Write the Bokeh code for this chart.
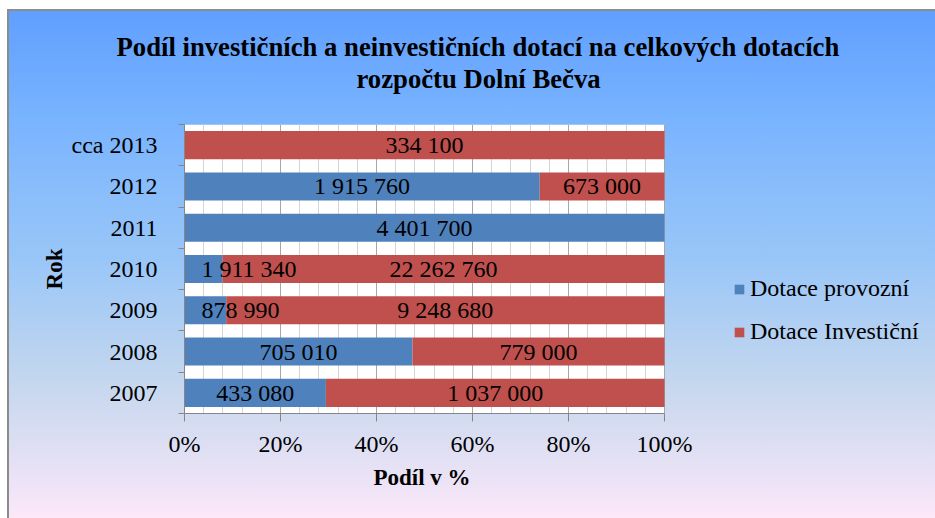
from bokeh.plotting import figure
from bokeh.models import (ColumnDataSource, Range1d, FixedTicker, PrintfTickFormatter, Title,
                          Legend, BoxAnnotation)
from bokeh.core.properties import value
from bokeh.embed import file_html
from bokeh.resources import INLINE

# ---- data ----
years = ["2007", "2008", "2009", "2010", "2011", "2012", "cca 2013"]
provozni = [433080, 705010, 878990, 1911340, 4401700, 1915760, 0]
investicni = [1037000, 779000, 9248680, 22262760, 0, 673000, 334100]
series_names = ["Dotace provozní", "Dotace Investiční"]
x_ticks = [0, 20, 40, 60, 80, 100]
x_minor_step = 4
title_lines = ["Podíl investičních a neinvestičních dotací na celkových dotacích",
               "rozpočtu Dolní Bečva"]
x_title = "Podíl v %"
y_title = "Rok"

BLUE = "#4F81BD"
RED = "#C0504D"
AXIS = "#868686"
FONT = "Liberation Serif"

totals = [a + b for a, b in zip(provozni, investicni)]
p_prov = [100.0 * a / t for a, t in zip(provozni, totals)]
p_inv = [100.0 * b / t for b, t in zip(investicni, totals)]
ypos = [i + 0.5 for i in range(len(years))]

W, H = 935, 518
LEFT = 184
PLOT_W = 480                      # pixel width of the 0-100 % plot area
x_end = 100.0 * (W - LEFT) / PLOT_W   # frame extends right to hold the legend

p = figure(width=W, height=H, x_range=Range1d(0, x_end), y_range=Range1d(0, len(years)),
           output_backend="svg", toolbar_location=None,
           min_border_left=LEFT, min_border_right=0, min_border_top=124, min_border_bottom=105,
           background_fill_color=None, border_fill_color=None, outline_line_color=None)

p.styles = {
    "background": ("linear-gradient(#ffffff,#ffffff) 0 0 / 100% 9px no-repeat, "
                   "linear-gradient(#ffffff,#ffffff) 0 0 / 7px 100% no-repeat, "
                   "linear-gradient(#8c8c8c,#8c8c8c) 7px 9px / 100% 2px no-repeat, "
                   "linear-gradient(#8c8c8c,#8c8c8c) 7px 9px / 2px 100% no-repeat, "
                   "linear-gradient(to bottom, #5d9dff 0%, #78b3ff 22%, #99c6f8 50%, "
                   "#c5d7ee 74%, #ece3f6 93%, #fce8f8 100%)")
}

# white plot area (0-100 %)
p.add_layout(BoxAnnotation(left=x_ticks[0], right=x_ticks[-1], fill_color="white",
                           fill_alpha=1, line_color=None, level="image"))

src = ColumnDataSource(dict(y=ypos, prov=p_prov, inv=p_inv))
rs = p.hbar_stack(["prov", "inv"], y="y", height=0.68, color=[BLUE, RED],
                  line_color=None, source=src)

# data labels
cx, cy, ct = [], [], []
lx, ly, lt = [], [], []
for i in range(len(years)):
    start = 0.0
    for val, pct in [(provozni[i], p_prov[i]), (investicni[i], p_inv[i])]:
        if val > 0:
            txt = f"{val:,}".replace(",", " ")
            c = start + pct / 2
            w = (sum(ch.isdigit() for ch in txt) * 0.5 + txt.count(" ") * 0.25) * 24
            if c / 100 * PLOT_W - w / 2 < 16:
                lx.append(0); ly.append(ypos[i]); lt.append(txt)
            else:
                cx.append(c); cy.append(ypos[i]); ct.append(txt)
        start += pct

p.text(x=cx, y=cy, text=ct, text_font=value(FONT), text_font_size="24px",
       text_align="center", text_baseline="middle", text_color="black")
p.text(x=lx, y=ly, text=lt, text_font=value(FONT), text_font_size="24px",
       text_align="left", text_baseline="middle", text_color="black", x_offset=17)

# titles
spacer = Title(text=" ", text_font_size="20px", standoff=7)
t2 = Title(text=title_lines[1], align="left", offset=172, text_font=FONT,
           text_font_size="26.7px", text_font_style="bold", text_color="black", standoff=0)
t1 = Title(text=title_lines[0], align="left", offset=-68, text_font=FONT,
           text_font_size="26.7px", text_font_style="bold", text_color="black", standoff=0)
p.add_layout(spacer, "above")
p.add_layout(t2, "above")
p.add_layout(t1, "above")

# x axis
xa = p.xaxis[0]
xa.bounds = (x_ticks[0], x_ticks[-1])
xa.ticker = FixedTicker(ticks=x_ticks, minor_ticks=list(range(x_ticks[0], x_ticks[-1] + 1, x_minor_step)))
xa.formatter = PrintfTickFormatter(format="%d%%")
xa.axis_line_color = AXIS
xa.major_tick_line_color = AXIS
xa.major_tick_out = 8
xa.major_tick_in = 0
xa.minor_tick_line_color = None
xa.major_label_text_font = FONT
xa.major_label_text_font_size = "24px"
xa.major_label_text_color = "black"
xa.major_label_standoff = 9

# x-axis title, centred under the 0-100 % plot area
xt = Title(text=x_title, align="left", offset=189, text_font=FONT,
           text_font_size="23px", text_font_style="bold", text_color="black",
           vertical_align="top", standoff=10)
p.add_layout(xt, "below")

# y axis
ya = p.yaxis[0]
ya.ticker = FixedTicker(ticks=ypos, minor_ticks=list(range(len(years) + 1)))
ya.major_label_overrides = {y: name for y, name in zip(ypos, years)}
ya.axis_line_color = AXIS
ya.major_tick_line_color = None
ya.major_tick_out = 0
ya.major_tick_in = 0
ya.minor_tick_line_color = AXIS
ya.minor_tick_out = 6
ya.minor_tick_in = 0
ya.major_label_text_font = FONT
ya.major_label_text_font_size = "24px"
ya.major_label_text_color = "black"
ya.major_label_standoff = 21
ya.axis_label = y_title
ya.axis_label_text_font = FONT
ya.axis_label_text_font_size = "23px"
ya.axis_label_text_font_style = "bold"
ya.axis_label_text_color = "black"
ya.axis_label_standoff = 2

# grid
p.xgrid.grid_line_color = "#a6a6a6"
p.xgrid.minor_grid_line_color = "#d4d4d4"
p.ygrid.visible = False

# legend
legend = Legend(items=[(series_names[0], [rs[0]]), (series_names[1], [rs[1]])],
                location=(549, 68), label_text_font=FONT, label_text_font_size="24px",
                label_text_color="black", glyph_width=12, glyph_height=12,
                label_standoff=5, spacing=16, padding=0, margin=0,
                background_fill_alpha=0, border_line_color=None)
p.add_layout(legend)

open("out.html", "w").write(file_html(p, INLINE))
